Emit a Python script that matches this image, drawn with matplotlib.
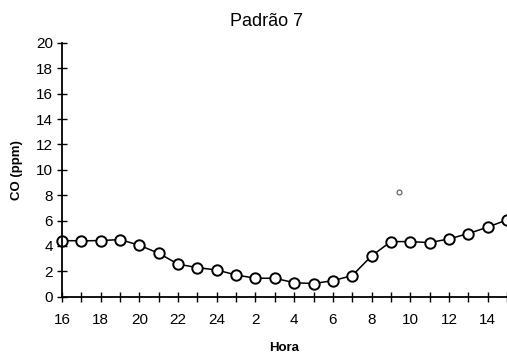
import matplotlib.pyplot as plt

plt.rcParams['font.family'] = ['Liberation Sans', 'DejaVu Sans']

# hours of the day, starting at 16h and wrapping to 15h
horas = [16, 17, 18, 19, 20, 21, 22, 23, 24, 1, 2, 3, 4, 5, 6, 7, 8, 9, 10, 11, 12, 13, 14, 15]
co = [4.42, 4.4, 4.42, 4.5, 4.05, 3.42, 2.56, 2.29, 2.1, 1.71, 1.45, 1.45, 1.1, 1.03, 1.26,
      1.66, 3.21, 4.34, 4.34, 4.26, 4.55, 4.97, 5.48, 6.05]
# lone small circle near 9h30
extra_x = [17.4]
extra_y = [8.26]

fig = plt.figure(figsize=(5.07, 3.54), dpi=100)
ax = fig.add_axes([0.1223, 0.162, 0.8777, 0.7167])

pos = list(range(len(horas)))
ax.plot(pos, co, color='black', linewidth=1.1, marker='o', markersize=7.5,
        markerfacecolor='white', markeredgecolor='black', markeredgewidth=1.4, clip_on=False)
ax.plot(extra_x, extra_y, linestyle='none', marker='o', markersize=3.5,
        markerfacecolor='white', markeredgecolor='#555555', markeredgewidth=0.8)

ax.set_xlim(0, 23)
ax.set_ylim(0, 20)
ax.set_xticks(pos)
ax.set_xticklabels([str(h) if i % 2 == 0 else '' for i, h in enumerate(horas)])
ax.set_yticks(range(0, 21, 2))
ax.tick_params(direction='inout', length=7, width=1, labelsize=11, pad=3)
ax.tick_params(axis='x', pad=8)

ax.spines['top'].set_visible(False)
ax.spines['right'].set_visible(False)
ax.spines['left'].set_linewidth(1.3)
ax.spines['bottom'].set_linewidth(1.3)

ax.set_title('Padrão 7', fontsize=13, pad=12, x=0.46)
ax.set_xlabel('Hora', fontsize=9.5, fontweight='bold', labelpad=11)
ax.set_ylabel('CO (ppm)', fontsize=9.5, fontweight='bold', labelpad=9)

fig.savefig('out.png', dpi=100)
